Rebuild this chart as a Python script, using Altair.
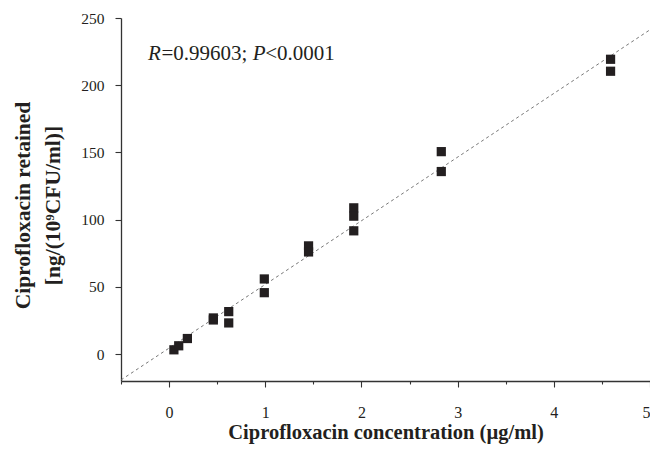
import altair as alt
import pandas as pd

# Data
conc = [0.05, 0.10, 0.19, 0.46, 0.46, 0.62, 0.62, 0.99, 0.99, 1.45, 1.45,
        1.92, 1.92, 1.92, 2.83, 2.83, 4.59, 4.59]
retained = [3.2, 6.2, 11.6, 25.4, 26.9, 31.6, 23.2, 55.9, 45.7, 80.5, 76.0,
            108.8, 102.6, 91.7, 150.6, 135.8, 219.3, 210.4]

x_tick_values = [-0.5, 0, 0.5, 1, 1.5, 2, 2.5, 3, 3.5, 4, 4.5, 5]
y_tick_values = [0, 25, 50, 75, 100, 125, 150, 175, 200, 225, 250]
x_domain = [-0.5, 5]
y_domain = [-20, 250]

x_title = "Ciprofloxacin concentration (\u00b5g/ml)"
y_title = ["Ciprofloxacin retained", "[ng/(10\u2079CFU/ml)]"]

ann_x = [-0.22]
ann_y = [219.0]

df = pd.DataFrame({"conc": conc, "retained": retained})
ann = pd.DataFrame({"x": ann_x, "y": ann_y})

FONT = "Liberation Serif"
INK = "#231f20"

xscale = alt.Scale(domain=x_domain, nice=False, zero=False)
yscale = alt.Scale(domain=y_domain, nice=False, zero=False)

xaxis = alt.Axis(
    values=x_tick_values,
    labelExpr="datum.value % 1 === 0 ? format(datum.value, 'd') : ''",
    tickSize={"condition": {"test": "datum.value % 1 === 0", "value": 6}, "value": 3},
    title=x_title,
    titleBaseline="alphabetic",
    titleY=57,
    labelPadding=17,
    labelFontSize=16,
    titleFontSize=20.5,
)
yaxis = alt.Axis(
    values=y_tick_values,
    labelExpr="datum.value % 50 === 0 ? format(datum.value, 'd') : ''",
    tickSize={"condition": {"test": "datum.value % 50 === 0", "value": 6}, "value": 3},
    title=y_title,
    titlePadding=16,
    titleY=187,
    labelPadding=11,
    labelFontSize=15.5,
    titleFontSize=21.5,
    titleLineHeight=30,
)

points = alt.Chart(df).mark_point(
    shape="square", filled=True, size=85, color=INK, opacity=1
).encode(
    x=alt.X("conc:Q", scale=xscale, axis=xaxis),
    y=alt.Y("retained:Q", scale=yscale, axis=yaxis),
)

fit = alt.Chart(df).transform_regression(
    "conc", "retained", extent=x_domain
).mark_line(color="#666666", strokeWidth=0.9, strokeDash=[3, 3]).encode(
    x=alt.X("conc:Q", scale=xscale),
    y=alt.Y("retained:Q", scale=yscale),
)

def piece(text, dx, italic):
    return alt.Chart(ann).mark_text(
        text=text, align="left", baseline="alphabetic", dx=dx,
        font=FONT, fontSize=21, fontStyle="italic" if italic else "normal",
        color=INK,
    ).encode(x=alt.X("x:Q", scale=xscale), y=alt.Y("y:Q", scale=yscale))

annotation = (
    piece("R", 0, True)
    + piece("=0.99603; ", 13.5, False)
    + piece("P", 104.7, True)
    + piece("<0.0001", 117.3, False)
)

chart = alt.layer(fit, points, annotation).properties(
    width=529,
    height=363,
    autosize=alt.AutoSizeParams(type="none"),
    padding={"left": 113, "top": 10, "right": 0, "bottom": 63},
    background="white",
).configure_view(stroke=None).configure_axis(
    grid=False,
    domainColor="#333333",
    domainWidth=1.3,
    tickColor="#333333",
    tickWidth=1.1,
    labelFont=FONT,
    labelColor=INK,
    titleFont=FONT,
    titleFontWeight="bold",
    titleColor=INK,
)

chart.save("out.html", embed_options={"renderer": "svg", "actions": False})
